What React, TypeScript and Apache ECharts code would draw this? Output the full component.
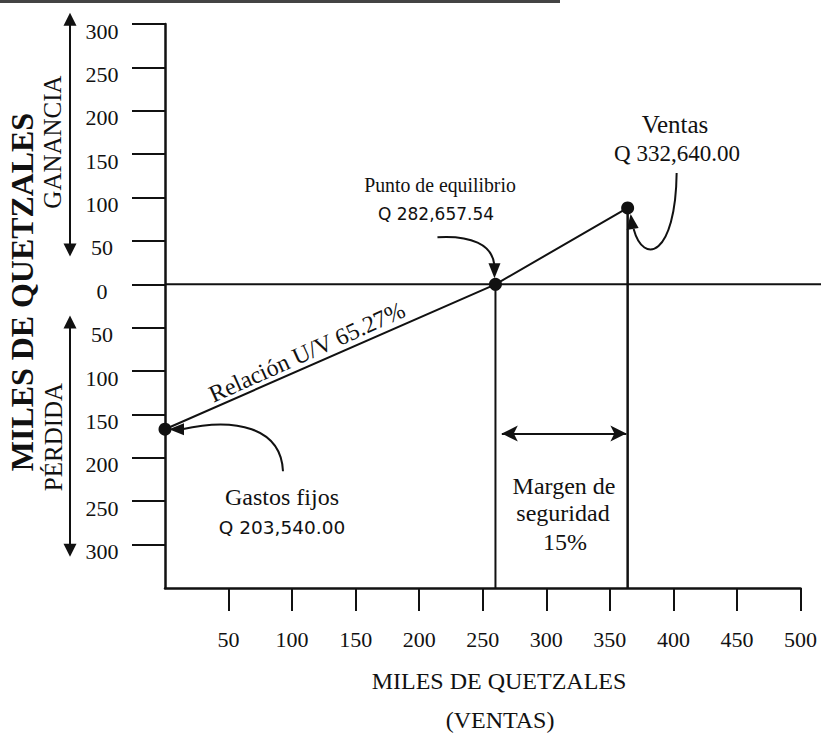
import React, { useEffect, useRef } from "react";
import * as echarts from "echarts";

// ---- data (miles de quetzales) ----
const xTickValues = [50, 100, 150, 200, 250, 300, 350, 400, 450, 500];
const yTickValues = [-300, -250, -200, -150, -100, -50, 0, 50, 100, 150, 200, 250, 300];
const resultX = [0, 260, 364]; // gastos fijos, punto de equilibrio, ventas
const resultY = [-167, 0, 88];
const breakEvenX = 260;
const salesX = 364;
const salesY = 88;
const axisBottom = -350;
const marginArrowY = -172;
const marginArrowX = [265, 363];
const gananciaArrowY = [313, 32];
const perdidaArrowY = [-36, -314];

const SERIF = "Liberation Serif";
const SANS = "DejaVu Sans";
const INK = "#111";

export default function App() {
  const ref = useRef<HTMLDivElement>(null);

  useEffect(() => {
    document.body.style.margin = "0";
    const chart = echarts.init(ref.current!, null, { renderer: "svg" });

    const option: any = {
      animation: false,
      backgroundColor: "#fff",
      grid: { left: 165, right: 20.5, top: 24, bottom: 146, outerBoundsMode: "none", containLabel: false },
      xAxis: {
        type: "value",
        min: 0,
        max: 500,
        interval: 50,
        splitLine: { show: false },
        axisLine: { show: true, onZero: false, lineStyle: { color: INK, width: 2.5 } },
        axisTick: { show: true, inside: false, length: 23, customValues: xTickValues, lineStyle: { color: INK, width: 2 } },
        axisLabel: { show: true, margin: 40, customValues: xTickValues, color: INK, fontSize: 22, fontFamily: SERIF },
      },
      yAxis: {
        type: "value",
        min: axisBottom,
        max: 300,
        interval: 50,
        splitLine: { show: false },
        axisLine: { show: true, onZero: false, lineStyle: { color: INK, width: 2.5 } },
        axisTick: { show: true, inside: false, length: 33, customValues: yTickValues, lineStyle: { color: INK, width: 2 } },
        axisLabel: {
          show: true,
          customValues: yTickValues,
          formatter: (v: number) => "\n" + String(Math.abs(v)),
          align: "center",
          margin: 63,
          lineHeight: 14,
          color: INK,
          fontSize: 22,
          fontFamily: SERIF,
        },
      },
      series: [
        {
          type: "line",
          data: resultX.map((x, i) => [x, resultY[i]]),
          symbol: "circle",
          symbolSize: 13,
          showSymbol: true,
          lineStyle: { color: INK, width: 2 },
          itemStyle: { color: INK },
          z: 5,
          silent: true,
        },
        {
          type: "line",
          data: [[breakEvenX, 0], [breakEvenX, axisBottom]],
          symbol: "none",
          lineStyle: { color: INK, width: 2 },
          silent: true,
          markLine: {
            silent: true,
            symbol: ["arrow", "arrow"],
            symbolSize: [12, 16],
            label: { show: false },
            lineStyle: { color: INK, width: 2, type: "solid" },
            data: [[{ coord: [marginArrowX[0], marginArrowY] }, { coord: [marginArrowX[1], marginArrowY] }]],
          },
        },
        {
          type: "line",
          data: [[salesX, salesY], [salesX, axisBottom]],
          symbol: "none",
          lineStyle: { color: INK, width: 2.5 },
          silent: true,
        },
      ],
    };
    chart.setOption(option);

    const p = (x: number, y: number) => chart.convertToPixel({ gridIndex: 0 }, [x, y]) as number[];
    const zero = p(0, 0);
    const G = p(resultX[0], resultY[0]);
    const B = p(resultX[1], resultY[1]);
    const V = p(resultX[2], resultY[2]);
    const add = (a: number[], dx: number, dy: number) => [a[0] + dx, a[1] + dy];
    const lineStyle = { stroke: INK, lineWidth: 2, fill: null };
    const head = (pts: number[][]) => ({ type: "polygon", shape: { points: pts }, style: { fill: INK } });
    const txt = (text: string, x: number, y: number, size: number, extra: any = {}) => ({
      type: "text",
      x,
      y,
      rotation: extra.rotation || 0,
      scaleX: extra.scaleX || 1,
      style: {
        text,
        fill: INK,
        font: `${extra.weight || "normal"} ${size}px "${extra.family || SERIF}"`,
        align: "center",
        verticalAlign: "middle",
      },
    });

    const aX = 70;
    const gTop = p(0, gananciaArrowY[0])[1];
    const gBot = p(0, gananciaArrowY[1])[1];
    const pTop = p(0, perdidaArrowY[0])[1];
    const pBot = p(0, perdidaArrowY[1])[1];

    const elements: any[] = [
      // scan edge at the top
      { type: "line", shape: { x1: 0, y1: 1.5, x2: 560, y2: 1.5 }, style: { stroke: "#444", lineWidth: 3 } },
      // zero line extended to the right edge
      { type: "line", shape: { x1: zero[0], y1: zero[1], x2: 821, y2: zero[1] }, style: { stroke: INK, lineWidth: 2 } },
      // ganancia / pérdida arrows
      { type: "line", shape: { x1: aX, y1: gTop + 10, x2: aX, y2: gBot - 10 }, style: lineStyle },
      head([[aX, gTop], [aX - 6.5, gTop + 13], [aX + 6.5, gTop + 13]]),
      head([[aX, gBot], [aX - 6.5, gBot - 13], [aX + 6.5, gBot - 13]]),
      { type: "line", shape: { x1: aX, y1: pTop + 10, x2: aX, y2: pBot - 10 }, style: lineStyle },
      head([[aX, pTop], [aX - 6.5, pTop + 13], [aX + 6.5, pTop + 13]]),
      head([[aX, pBot], [aX - 6.5, pBot - 13], [aX + 6.5, pBot - 13]]),
      // gastos fijos curved arrow
      {
        type: "bezierCurve",
        shape: { x1: G[0] + 118, y1: G[1] + 42, cpx1: G[0] + 116, cpy1: G[1] - 2, cpx2: G[0] + 70, cpy2: G[1] - 12, x2: G[0] + 17, y2: G[1] },
        style: lineStyle,
      },
      head([add(G, 4, 0), add(G, 19, -6), add(G, 19, 6)]),
      // punto de equilibrio curved arrow
      {
        type: "bezierCurve",
        shape: { x1: B[0] - 58, y1: B[1] - 47, cpx1: B[0] - 25, cpy1: B[1] - 49, cpx2: B[0] - 3, cpy2: B[1] - 40, x2: B[0] - 1, y2: B[1] - 19 },
        style: lineStyle,
      },
      head([add(B, -1, -6), add(B, -7, -21), add(B, 5, -21)]),
      // ventas curved arrow
      {
        type: "bezierCurve",
        shape: { x1: V[0] + 49, y1: V[1] - 35, cpx1: V[0] + 48, cpy1: V[1] + 48, cpx2: V[0] + 16, cpy2: V[1] + 58, x2: V[0] + 6, y2: V[1] + 21 },
        style: lineStyle,
      },
      head([add(V, 3, 6), add(V, -1, 22), add(V, 11, 20)]),
      // texts
      txt("Punto de equilibrio", 440, 185, 22, { scaleX: 0.9 }),
      txt("Q 282,657.54", 436, 214, 18.5, { family: SANS, scaleX: 0.92 }),
      txt("Ventas", 675, 124, 25),
      txt("Q 332,640.00", 677, 153, 23),
      txt("Gastos fijos", 282, 497, 24),
      txt("Q 203,540.00", 282, 527, 18.5, { family: SANS }),
      txt("Margen de", 564, 486, 24),
      txt("seguridad", 563, 513, 24),
      txt("15%", 565, 542, 24),
      txt("Relación U/V 65.27%", 307, 352, 24, { rotation: 0.422 }),
      txt("MILES DE QUETZALES", 499, 681, 24),
      txt("(VENTAS)", 500, 720, 24),
      txt("MILES DE QUETZALES", 23, 292, 31, { rotation: Math.PI / 2, weight: "bold", scaleX: 1.03 }),
      txt("GANANCIA", 52, 142, 25, { rotation: Math.PI / 2 }),
      txt("PÉRDIDA", 53, 437, 25, { rotation: Math.PI / 2 }),
    ];
    chart.setOption({ graphic: { elements } });

    return () => chart.dispose();
  }, []);

  return <div ref={ref} style={{ width: 821, height: 734 }} />;
}
